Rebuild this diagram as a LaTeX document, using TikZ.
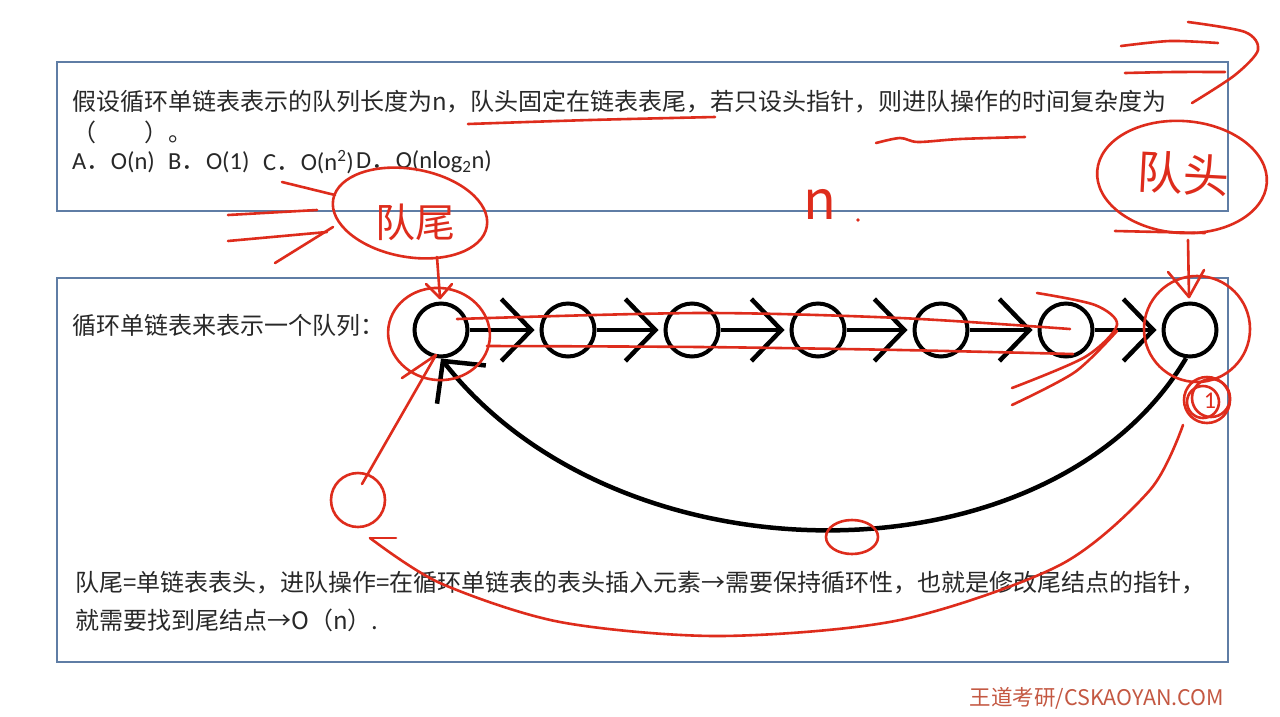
\documentclass[tikz,border=0pt]{standalone}
\usepackage{fontspec}
\setmainfont{Carlito}
\newfontfamily\cjk{Noto Sans CJK SC}
\usetikzlibrary{arrows.meta}
\definecolor{boxblue}{RGB}{95,125,165}
\definecolor{ink}{RGB}{40,40,40}
\definecolor{pen}{RGB}{222,44,28}
\definecolor{wm}{RGB}{196,88,66}
\tikzset{
  txt/.style={anchor=west, inner sep=0pt, text=ink, font=\cjk\fontsize{24}{28}\selectfont},
  opt/.style={anchor=west, inner sep=0pt, text=ink, font=\fontsize{24.5}{28}\selectfont},
  qnode/.style={circle, draw=black, line width=4pt, minimum size=53pt, inner sep=0pt},
  link/.style={line width=4.5pt, -{Straight Barb[length=30pt,width=62pt]}, shorten >=5pt},
  panel/.style={draw=boxblue, line width=1.2pt},
  redpen/.style={draw=pen, line width=2.6pt, line cap=round, line join=round},
  hand/.style={text=pen, inner sep=0pt, font=\cjk\fontsize{46}{46}\selectfont}
}
\begin{document}
\begin{tikzpicture}[x=1pt,y=-1pt]
\useasboundingbox (0,0) rectangle (1280,716);
\fill[white] (0,0) rectangle (1280,716);
% panels
\draw[panel] (57,62) rectangle (1228,211);
\draw[panel] (57,278) rectangle (1228,662);
% question text
\node[txt] (q1) at (72,102) {假设循环单链表表示的队列长度为n，队头固定在链表表尾，若只设头指针，则进队操作的时间复杂度为};
\node[txt] (q2) at (72,132) {（\hspace{2em}）。};
\node[opt] (oa) at (72,162) {A{\cjk ．}O(n)};
\node[opt] (ob) at (168,162) {B{\cjk ．}O(1)};
\node[opt] (oc) at (263,162) {C{\cjk ．}O(n\textsuperscript{2})};
\node[opt] (od) at (356,162) {D{\cjk ．}O(nlog\textsubscript{2}n)};
\node[txt] (lbl) at (72,325) {循环单链表来表示一个队列：};
\node[txt] (e1) at (75,583) {队尾=单链表表头，进队操作=在循环单链表的表头插入元素→需要保持循环性，也就是修改尾结点的指针，};
\node[txt] (e2) at (75,620) {就需要找到尾结点→O（n）.};
\node[anchor=center, inner sep=0pt, text=wm, font=\cjk\fontsize{21.5}{24}\selectfont] (wmk) at (1097,698) {王道考研/CSKAOYAN.COM};
% list nodes
\node[qnode] (n1) at (441,330) {};
\node[qnode] (n2) at (568,330) {};
\node[qnode] (n3) at (692,330) {};
\node[qnode] (n4) at (818,330) {};
\node[qnode] (n5) at (941,330) {};
\node[qnode] (n6) at (1066,330) {};
\node[qnode] (n7) at (1190,330) {};
\draw[link] (n1) -- (n2);
\draw[link] (n2) -- (n3);
\draw[link] (n3) -- (n4);
\draw[link] (n4) -- (n5);
\draw[link] (n5) -- (n6);
\draw[link] (n6) -- (n7);
\draw[line width=4.5pt, -{Straight Barb[length=30pt,width=62pt]}] (n7.262) .. controls (1050,587) and (620,587) .. (n1.south);
% red annotations
\draw[redpen] plot[smooth] coordinates {(468,124) (590,120) (715,117)};
\draw[redpen] plot[smooth] coordinates {(876,143) (900,138) (918,142) (960,139) (1025,137)};
\draw[redpen] plot[smooth] coordinates {(1121,46) (1170,41) (1218,43)};
\draw[redpen] plot[smooth] coordinates {(1125,73) (1175,72) (1225,72)};
\draw[redpen] plot[smooth] coordinates {(1188,22) (1245,32) (1258,50) (1235,75) (1192,103)};
\draw[redpen, rotate around={-4:(1182,177)}] (1182,177) ellipse [x radius=85, y radius=56];
\draw[redpen] (1115,231) -- (1205,233);
\node[hand, rotate=-3] (tou) at (1183,174) {队头};
\draw[redpen] (1188,240) -- (1189,297);
\draw[redpen] (1168,272) -- (1189,297) -- (1204,270);
\draw[redpen] (1197,329) circle [radius=53];
\draw[redpen] (1207,400) circle [radius=23];
\draw[redpen] (1211,398) circle [radius=19];
\draw[redpen] (1203,402) circle [radius=16];
\node[text=pen, inner sep=0pt, font=\fontsize{24}{24}\selectfont] (one) at (1210,401) {1};
\draw[redpen] plot[smooth] coordinates {(1183,425) (1150,490) (1060,565) (900,620) (720,636) (560,622) (440,583) (370,538)};
\draw[redpen] (370,538) -- (396,538);
\draw[redpen] (358,500) circle [radius=27];
\draw[redpen] (362,484) -- (436,355);
\draw[redpen] (402,378) -- (436,355);
\draw[redpen, rotate around={-8:(439,334)}] (439,334) ellipse [x radius=51, y radius=46];
\draw[redpen] (437,257) -- (440,298);
\draw[redpen] (426,284) -- (440,298) -- (452,284);
\draw[redpen, rotate around={-10:(410,213)}] (410,213) ellipse [x radius=78, y radius=44];
\node[hand, font=\cjk\fontsize{40}{40}\selectfont] (wei) at (415,222) {队尾};
\draw[redpen] (282,182) -- (335,195);
\draw[redpen] (228,215) -- (317,210);
\draw[redpen] (228,241) -- (327,232);
\draw[redpen] (275,263) -- (333,227);
\node[hand, font=\cjk\fontsize{54}{54}\selectfont] (nn) at (820,204) {n};
\fill[pen] (858,220) circle [radius=1.8];
\draw[redpen] plot[smooth] coordinates {(457,319) (700,313) (900,318) (1070,329)};
\draw[redpen] plot[smooth] coordinates {(487,346) (700,347) (900,350) (1073,354)};
\draw[redpen] plot[smooth] coordinates {(1037,293) (1095,305) (1117,325) (1085,357) (1012,388)};
\draw[redpen] plot[smooth] coordinates {(1012,405) (1075,372) (1117,331)};
\draw[redpen] (852,537) ellipse [x radius=26, y radius=17];
\end{tikzpicture}
\end{document}
